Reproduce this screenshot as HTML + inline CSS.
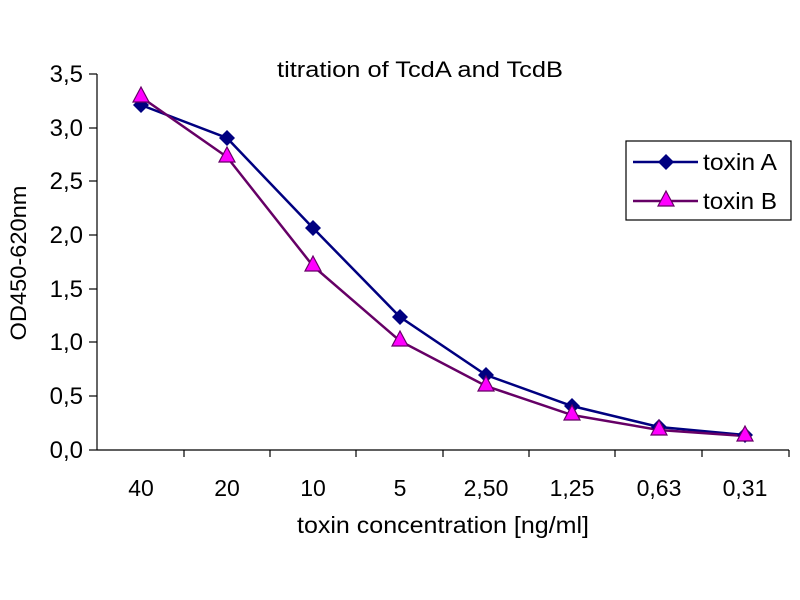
<!DOCTYPE html>
<html><head><style>body{margin:0;background:#fff}svg{display:block}text{font-family:"Liberation Sans",Arial,sans-serif;fill:#000}</style></head><body>
<svg width="800" height="600" viewBox="0 0 800 600">
<text x="420" y="77" font-size="22" text-anchor="middle" textLength="286" lengthAdjust="spacingAndGlyphs">titration of TcdA and TcdB</text>
<g stroke="#000" stroke-width="1.2">
<line x1="97" y1="74" x2="97" y2="450"/>
<line x1="97" y1="450" x2="789" y2="450"/>
<line x1="89" y1="74" x2="97" y2="74"/><line x1="89" y1="128" x2="97" y2="128"/><line x1="89" y1="181" x2="97" y2="181"/><line x1="89" y1="235" x2="97" y2="235"/><line x1="89" y1="289" x2="97" y2="289"/><line x1="89" y1="342" x2="97" y2="342"/><line x1="89" y1="396" x2="97" y2="396"/><line x1="89" y1="450" x2="97" y2="450"/>
<line x1="184" y1="450" x2="184" y2="457"/><line x1="270" y1="450" x2="270" y2="457"/><line x1="356" y1="450" x2="356" y2="457"/><line x1="443" y1="450" x2="443" y2="457"/><line x1="529" y1="450" x2="529" y2="457"/><line x1="615" y1="450" x2="615" y2="457"/><line x1="702" y1="450" x2="702" y2="457"/><line x1="789" y1="450" x2="789" y2="457"/>
</g>
<g font-size="24" text-anchor="end">
<text x="83" y="82">3,5</text><text x="83" y="136">3,0</text><text x="83" y="189">2,5</text><text x="83" y="243">2,0</text><text x="83" y="297">1,5</text><text x="83" y="350">1,0</text><text x="83" y="404">0,5</text><text x="83" y="458">0,0</text>
</g>
<g font-size="23" text-anchor="middle">
<text x="141" y="496">40</text><text x="227" y="496">20</text><text x="313" y="496">10</text><text x="400" y="496">5</text><text x="486" y="496">2,50</text><text x="572" y="496">1,25</text><text x="659" y="496">0,63</text><text x="745" y="496">0,31</text>
</g>
<text x="443" y="533" font-size="23" text-anchor="middle" textLength="292" lengthAdjust="spacingAndGlyphs">toxin concentration [ng/ml]</text>
<text transform="translate(26,263) rotate(-90)" font-size="22" text-anchor="middle" textLength="155" lengthAdjust="spacingAndGlyphs">OD450-620nm</text>
<polyline fill="none" stroke="#000080" stroke-width="2.5" points="141,105 227,138 313,228 400,317 486,375 572,406 659,427 745,435"/>
<polyline fill="none" stroke="#660066" stroke-width="2.5" points="141,97 227,157 313,266 400,341 486,386 572,415 659,430 745,436"/>
<g fill="#000080">
<path d="M141,97 l8,8 -8,8 -8,-8z"/><path d="M227,130 l8,8 -8,8 -8,-8z"/><path d="M313,220 l8,8 -8,8 -8,-8z"/><path d="M400,309 l8,8 -8,8 -8,-8z"/><path d="M486,367 l8,8 -8,8 -8,-8z"/><path d="M572,398 l8,8 -8,8 -8,-8z"/><path d="M659,419 l8,8 -8,8 -8,-8z"/><path d="M745,427 l8,8 -8,8 -8,-8z"/>
</g>
<g fill="#ff00ff" stroke="#660066" stroke-width="1.2">
<path d="M141,87 l8,15 -16,0z"/><path d="M227,147 l8,15 -16,0z"/><path d="M313,256 l8,15 -16,0z"/><path d="M400,331 l8,15 -16,0z"/><path d="M486,376 l8,15 -16,0z"/><path d="M572,405 l8,15 -16,0z"/><path d="M659,420 l8,15 -16,0z"/><path d="M745,426 l8,15 -16,0z"/>
</g>
<rect x="626" y="141" width="165" height="79" fill="#fff" stroke="#000" stroke-width="1.2"/>
<line x1="633" y1="162" x2="698" y2="162" stroke="#000080" stroke-width="2.5"/>
<path d="M666,154 l8,8 -8,8 -8,-8z" fill="#000080"/>
<text x="703" y="170" font-size="23" textLength="74" lengthAdjust="spacingAndGlyphs">toxin A</text>
<line x1="633" y1="201" x2="698" y2="201" stroke="#660066" stroke-width="2.5"/>
<path d="M666,191 l8,15 -16,0z" fill="#ff00ff" stroke="#660066" stroke-width="1.2"/>
<text x="703" y="209" font-size="23" textLength="74" lengthAdjust="spacingAndGlyphs">toxin B</text>
</svg>
</body></html>
